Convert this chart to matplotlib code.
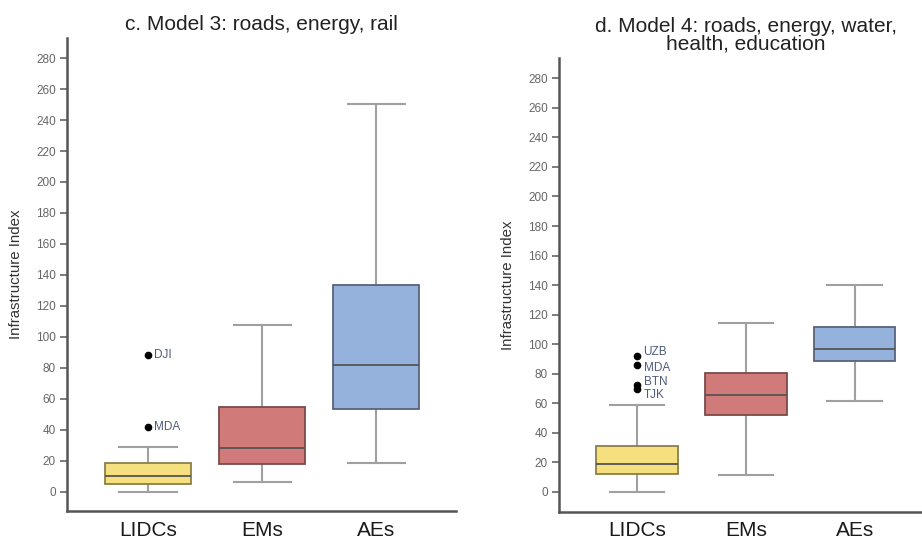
import matplotlib
matplotlib.use("Agg")
import matplotlib.pyplot as plt

plt.rcParams["font.family"] = ["Liberation Sans", "DejaVu Sans"]

groups = ["LIDCs", "EMs", "AEs"]
fills = ["#F6DF7E", "#D07A7A", "#95B2DC"]
edges = ["#8a7f4a", "#7a4a4a", "#56647a"]

# Model 3: roads, energy, rail -- (whislo, q1, median, q3, whishi)
m3_stats = [
    (0.0, 4.8, 9.9, 18.7, 28.6),
    (6.0, 17.9, 28.2, 54.8, 107.4),
    (18.7, 53.7, 81.5, 133.4, 250.6),
]
m3_out_names = ["DJI", "MDA"]
m3_out_values = [88.2, 41.9]

# Model 4: roads, energy, water, health, education
m4_stats = [
    (0.0, 12.2, 18.8, 31.2, 58.9),
    (11.3, 52.0, 65.7, 80.4, 114.1),
    (61.4, 88.8, 96.9, 111.6, 140.0),
]
m4_out_names = ["UZB", "MDA", "BTN", "TJK"]
m4_out_values = [91.9, 86.1, 72.3, 69.4]

yticks = list(range(0, 281, 20))

W, H = 922, 540
fig = plt.figure(figsize=(W / 100, H / 100), dpi=100)


def panel(rect, title, stats, out_names, out_values, label_dy,
          xlim, ylim, ylab_x):
    ax = fig.add_axes(rect)
    bxp_stats = []
    for g, (lo, q1, med, q3, hi) in zip(groups, stats):
        bxp_stats.append(dict(label=g, whislo=lo, q1=q1, med=med, q3=q3,
                              whishi=hi, fliers=[]))
    res = ax.bxp(bxp_stats, positions=[0, 1, 2], widths=0.75,
                 patch_artist=True, showfliers=False,
                 whiskerprops=dict(color="#a0a0a0", lw=1.5),
                 capprops=dict(color="#a0a0a0", lw=1.5),
                 medianprops=dict(color="#555555", lw=1.3),
                 capwidths=0.5)
    for box, fc, ec in zip(res["boxes"], fills, edges):
        box.set_facecolor(fc)
        box.set_edgecolor(ec)
        box.set_linewidth(1.3)
        box.set_zorder(3)
    for m in res["medians"]:
        m.set_zorder(4)
    # outlying countries sit in the LIDCs column
    ax.plot([0] * len(out_values), out_values, "o", color="black", ms=4.5,
            zorder=5, ls="none")
    for name, v, dy in zip(out_names, out_values, label_dy):
        ax.annotate(name, (0, v), xytext=(4.5, dy), textcoords="offset points",
                    va="center", ha="left", fontsize=8.5, color="#4d5b7a")
    ax.set_xlim(*xlim)
    ax.set_ylim(*ylim)
    ax.set_yticks(yticks)
    ax.set_xticks([0, 1, 2])
    ax.set_xticklabels(groups, fontsize=15, color="#1a1a1a")
    ax.tick_params(axis="x", length=0, pad=7)
    ax.tick_params(axis="y", length=5, width=1.2, color="#666666",
                   labelsize=8.5, labelcolor="#666666", pad=3)
    for s in ("top", "right"):
        ax.spines[s].set_visible(False)
    for s in ("left", "bottom"):
        ax.spines[s].set_color("#555555")
        ax.spines[s].set_linewidth(1.8)
    ax.set_title(title, fontsize=15, color="#222222", pad=6, linespacing=0.92)
    ax.set_ylabel("Infrastructure Index", fontsize=10.8, color="#333333")
    ax.yaxis.set_label_coords(ylab_x, 0.5)
    return ax


panel([67 / W, (H - 511) / H, (456 - 67) / W, (511 - 38) / H],
      "c. Model 3: roads, energy, rail", m3_stats,
      m3_out_names, m3_out_values, [0, 0],
      (-0.71, 2.70), (-12.5, 293), -0.113)

ax4 = panel([559 / W, (H - 511.7) / H, (922 - 559) / W, (511.7 - 58.3) / H],
            "d. Model 4: roads, energy, water,\nhealth, education", m4_stats,
            m4_out_names, m4_out_values, [3.2, -2.2, 2.4, -4.4],
            (-0.72, 2.62), (-13.5, 293.6), -0.121)
ax4.title.set_x(0.515)

fig.savefig("out.png", dpi=100)
